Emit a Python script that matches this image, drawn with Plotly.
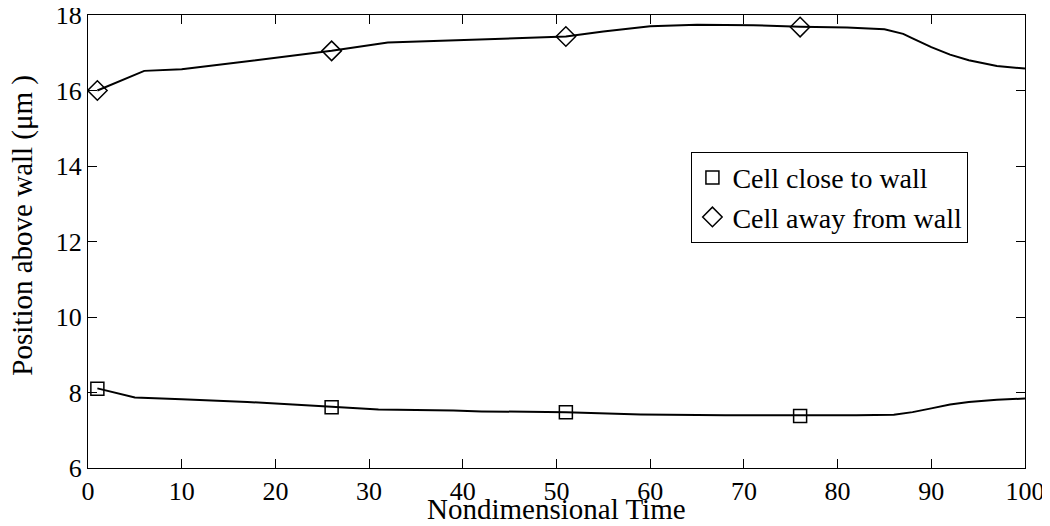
"""
Cell position above wall vs nondimensional time.
"""

import plotly.graph_objects as go

# traced curves
time_close = [1, 5, 10, 17, 26, 31, 39, 42, 51, 59, 68, 76, 82, 86, 88, 90, 92, 94, 97, 100]
pos_close = [8.11, 7.87, 7.82, 7.75, 7.62, 7.55, 7.52, 7.50, 7.48, 7.42, 7.40, 7.39, 7.40, 7.41,
             7.48, 7.58, 7.68, 7.75, 7.81, 7.84]

time_away = [1, 6, 10, 20, 26, 32, 40, 44, 51, 55, 60, 65, 71, 76, 81, 85, 87, 88, 90, 92, 94, 97, 100]
pos_away = [16.0, 16.52, 16.56, 16.87, 17.05, 17.27, 17.34, 17.38, 17.43, 17.56, 17.70, 17.74,
            17.73, 17.69, 17.67, 17.62, 17.50, 17.38, 17.15, 16.95, 16.80, 16.65, 16.58]

# marker samples
marker_time = [1, 26, 51, 76]
close_marker = [8.1, 7.61, 7.48, 7.38]
away_marker = [16.0, 17.05, 17.43, 17.68]

x_ticks = [0, 10, 20, 30, 40, 50, 60, 70, 80, 90, 100]
y_ticks = [6, 8, 10, 12, 14, 16, 18]

FONT = "Liberation Serif, Times New Roman, serif"

fig = go.Figure()

fig.add_trace(go.Scatter(
    x=time_close, y=pos_close, mode="lines", showlegend=False,
    line=dict(color="black", width=2),
))
fig.add_trace(go.Scatter(
    x=time_away, y=pos_away, mode="lines", showlegend=False,
    line=dict(color="black", width=2),
))
fig.add_trace(go.Scatter(
    x=marker_time, y=close_marker, mode="markers", name="Cell close to wall",
    marker=dict(symbol="square-open", size=13, color="black", line=dict(width=1.5)),
))
fig.add_trace(go.Scatter(
    x=marker_time, y=away_marker, mode="markers", name="Cell away from wall",
    marker=dict(symbol="diamond-open", size=15, color="black", line=dict(width=1.5)),
))

axis_common = dict(
    showgrid=False, zeroline=False, automargin=False, ticklabeloverflow="allow",
    showline=True, linecolor="black", linewidth=1, mirror="ticks",
    ticks="inside", ticklen=9, tickcolor="black",
    tickfont=dict(family=FONT, size=26, color="black"),
)

# page body adds an 8px offset, so the figure is sized 8px smaller
fig.update_layout(
    xaxis=dict(range=[0, 100], tickvals=x_ticks, **axis_common),
    yaxis=dict(range=[6, 18], tickvals=y_ticks, **axis_common),
    legend=dict(
        x=0.644, y=0.698, xanchor="left", yanchor="top",
        bgcolor="white", bordercolor="black", borderwidth=1,
        font=dict(family=FONT, size=28, color="black"),
        tracegroupgap=0,
    ),
    annotations=[
        dict(text="Nondimensional Time", xref="paper", yref="paper", x=0.5, y=0,
             xanchor="center", yanchor="middle", yshift=-41, showarrow=False,
             font=dict(family=FONT, size=29, color="black")),
        dict(text="Position above wall (μm )", xref="paper", yref="paper", x=0, y=0.535,
             xanchor="center", yanchor="middle", xshift=-65, textangle=-90, showarrow=False,
             font=dict(family=FONT, size=29, color="black")),
    ],
    plot_bgcolor="white", paper_bgcolor="white",
    margin=dict(t=7, b=58, l=80, r=25),
    width=1042, height=518,
)

fig.write_html("out.html")
